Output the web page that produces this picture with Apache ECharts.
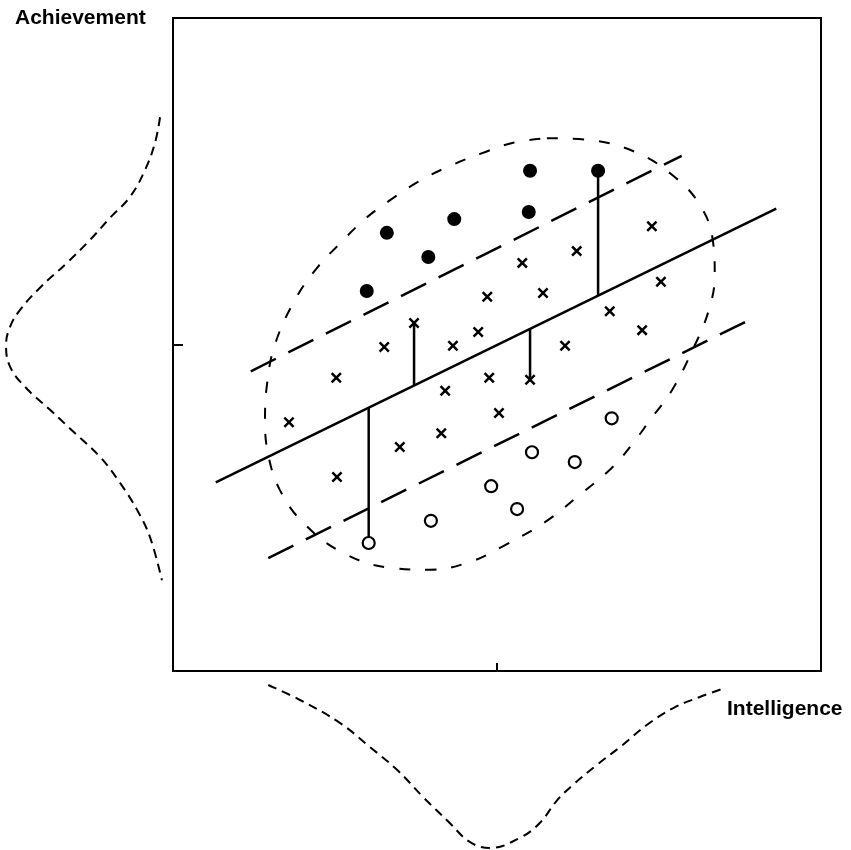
<!DOCTYPE html>
<html>
<head>
<meta charset="utf-8">
<script src="https://cdn.jsdelivr.net/npm/echarts@6/dist/echarts.min.js"></script>
<style>html,body{margin:0;padding:0;background:#fff}#c{width:851px;height:850px}</style>
</head>
<body>
<div id="c"></div>
<script>
// Scatter groups (Intelligence, Achievement) on a 0-10 scale
const highAchievers = [[5.51,7.66],[6.56,7.66],[4.34,6.92],[5.49,7.03],[3.30,6.71],[3.94,6.34],[2.99,5.82]];
const expected = [[7.39,6.81],[6.23,6.43],[5.39,6.25],[4.85,5.73],[5.71,5.79],[7.53,5.96],[6.74,5.51],[7.24,5.22],
  [4.71,5.19],[4.32,4.98],[6.05,4.98],[3.26,4.96],[3.72,5.33],[2.52,4.49],[4.20,4.29],[4.88,4.49],[5.51,4.46],
  [1.79,3.81],[5.03,3.95],[4.14,3.64],[3.50,3.43],[2.53,2.97]];
const lowAchievers = [[6.77,3.87],[5.54,3.35],[6.20,3.20],[4.91,2.83],[5.31,2.48],[3.98,2.30],[3.02,1.96]];
// Regression line and band limits (endpoints)
const regLine = [[0.66,2.89],[9.31,7.08]];
const upperBand = [[1.20,4.59],[7.85,7.89]];
const lowerBand = [[1.47,1.73],[8.90,5.38]];
// Points whose residual is drawn
const residualPoints = [[3.02,1.96],[3.72,5.33],[5.51,4.46],[6.56,7.66]];
// Dashed ellipse outline
const ellipse = [[5.77,8.16],[6.44,8.13],[7.13,7.95],[7.70,7.60],[8.13,7.14],[8.33,6.60],[8.36,6.06],[8.26,5.50],
  [8.02,4.92],[7.70,4.30],[7.36,3.84],[7.10,3.49],[6.77,3.11],[6.28,2.70],[5.74,2.28],[5.09,1.91],[4.58,1.67],
  [3.97,1.55],[3.35,1.58],[2.62,1.81],[2.01,2.27],[1.65,2.77],[1.47,3.31],[1.42,3.84],[1.45,4.38],[1.57,4.99],
  [1.88,5.68],[2.22,6.17],[2.58,6.55],[2.96,6.92],[3.35,7.21],[3.78,7.49],[4.24,7.72],[4.77,7.93],[5.25,8.09],[5.77,8.16]];
// Marginal distributions: [density, achievement] and [intelligence, density]
const achievementDensity = [[0.075,8.48],[0.104,8.09],[0.162,7.67],[0.249,7.26],[0.364,6.94],[0.480,6.60],[0.613,6.25],
  [0.769,5.87],[0.884,5.53],[0.942,5.27],[0.965,4.99],[0.942,4.66],[0.855,4.35],[0.711,4.00],[0.566,3.64],[0.422,3.28],
  [0.306,2.88],[0.208,2.47],[0.133,2.05],[0.064,1.39]];
const intelligenceDensity = [[1.47,0.078],[1.96,0.162],[2.58,0.291],[3.04,0.425],[3.46,0.553],[3.86,0.704],[4.27,0.849],
  [4.58,0.955],[4.89,0.989],[5.35,0.933],[5.66,0.849],[5.93,0.721],[6.17,0.637],[6.54,0.525],[6.94,0.413],[7.31,0.302],
  [7.72,0.207],[8.13,0.145],[8.47,0.101]];
const xTitle = 'Intelligence';
const yTitle = 'Achievement';

function regAt(x){
  const [a,b] = regLine; return a[1] + (x - a[0]) * (b[1]-a[1])/(b[0]-a[0]);
}
const residualSeries = residualPoints.map(p => ({
  type:'line', xAxisIndex:0, yAxisIndex:0, data:[[p[0], regAt(p[0])], p], symbol:'none',
  lineStyle:{color:'#000', width:2.5}, z:3, silent:true
}));

const crossPath = 'path://M0,1.6L1.6,0L10,8.4L8.4,10Z M8.4,0L10,1.6L1.6,10L0,8.4Z';

const chart = echarts.init(document.getElementById('c'), null, {renderer:'canvas'});
chart.setOption({
  animation:false,
  backgroundColor:'#fff',
  grid:[
    {left:173, top:18, width:648, height:653, show:true, borderColor:'#000', borderWidth:2, backgroundColor:'transparent'},
    {left:0, top:18, width:173, height:653},
    {left:173, top:671, width:648, height:179}
  ],
  xAxis:[
    {gridIndex:0, type:'value', min:0, max:10, interval:5, axisLine:{show:false},
      axisTick:{show:true, inside:true, length:8, lineStyle:{color:'#000', width:2}}, axisLabel:{show:false}, splitLine:{show:false}},
    {gridIndex:1, type:'value', min:0, max:1, inverse:true, show:false},
    {gridIndex:2, type:'value', min:0, max:10, show:false}
  ],
  yAxis:[
    {gridIndex:0, type:'value', min:0, max:10, interval:5, axisLine:{show:false},
      axisTick:{show:true, inside:true, length:10, lineStyle:{color:'#000', width:2}}, axisLabel:{show:false}, splitLine:{show:false}},
    {gridIndex:1, type:'value', min:0, max:10, show:false},
    {gridIndex:2, type:'value', min:0, max:1, inverse:true, show:false}
  ],
  graphic:[
    {type:'text', left:15, top:8, style:{text:yTitle, font:'bold 21px "Liberation Sans", Arial, sans-serif', fill:'#000'}},
    {type:'text', left:727, top:699, style:{text:xTitle, font:'bold 21px "Liberation Sans", Arial, sans-serif', fill:'#000'}}
  ],
  series:[
    {type:'line', data:ellipse, smooth:0.4, symbol:'none', lineStyle:{color:'#000', width:2, type:[11,15]}, z:1, silent:true},
    {type:'line', data:upperBand, symbol:'none', lineStyle:{color:'#000', width:2.5, type:[28,14]}, z:2, silent:true},
    {type:'line', data:lowerBand, symbol:'none', lineStyle:{color:'#000', width:2.5, type:[28,14]}, z:2, silent:true},
    {type:'line', data:regLine, symbol:'none', lineStyle:{color:'#000', width:2.5}, z:2, silent:true},
    ...residualSeries,
    {type:'scatter', data:highAchievers, symbol:'circle', symbolSize:14, itemStyle:{color:'#000', opacity:1}, z:5},
    {type:'scatter', data:expected, symbol:crossPath, symbolSize:11, itemStyle:{color:'#000', opacity:1}, z:5},
    {type:'scatter', data:lowAchievers, symbol:'circle', symbolSize:12, itemStyle:{color:'#fff', borderColor:'#000', borderWidth:2.2, opacity:1}, z:5},
    {type:'line', xAxisIndex:1, yAxisIndex:1, data:achievementDensity, smooth:0.4, symbol:'none',
      lineStyle:{color:'#000', width:2, type:[9,6]}, silent:true},
    {type:'line', xAxisIndex:2, yAxisIndex:2, data:intelligenceDensity, smooth:0.4, symbol:'none',
      lineStyle:{color:'#000', width:2, type:[9,6]}, silent:true}
  ]
});
</script>
</body>
</html>
